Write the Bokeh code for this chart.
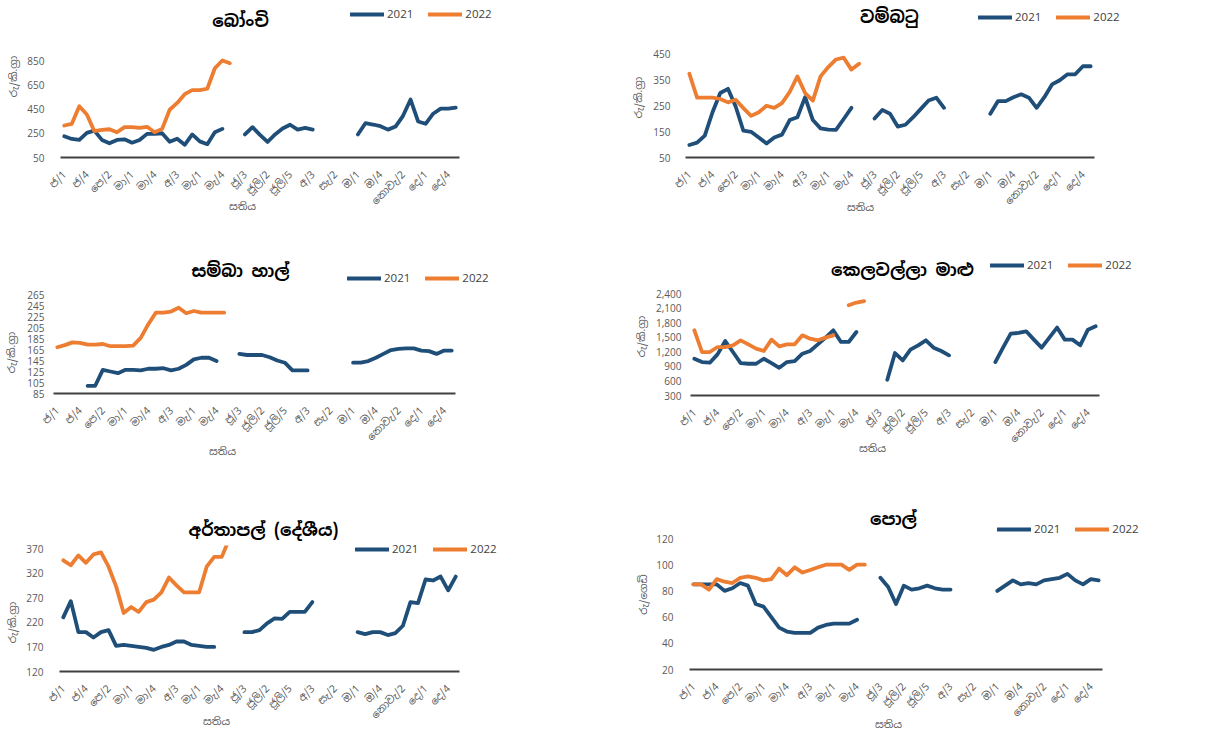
import numpy as np
from bokeh.plotting import figure
from bokeh.models import (Range1d, FixedTicker, Label, Legend, LegendItem,
                          NumeralTickFormatter, BoxAnnotation)
from bokeh.layouts import column, row
from bokeh.embed import file_html
from bokeh.resources import INLINE

NA = np.nan
N_WEEKS = 53
weeks = np.arange(N_WEEKS)

tick_positions = list(range(0, 52, 3))
tick_labels = ["ජ/1", "ජ/4", "පෙ/2", "මා/1", "මා/4", "අ/3", "මැ/1", "මැ/4", "ජූ/3",
               "ජූලි/2", "ජූලි/5", "අ/3", "සැ/2", "ඔ/1", "ඔ/4", "නොවැ/2", "දෙ/1", "දෙ/4"]

series_names = ["2021", "2022"]
x_title = "සතිය"

# ---- බෝංචි ----
bonchi_2021 = [225, 203, 195, 253, 272, 195, 167, 195, 200, 172, 195, 245, 245, 250, 180, 205, 155, 240, 183, 160, 258, 286,
               NA, NA,
               240, 300, 236, 178, 240, 289, 320, 280, 294, 280,
               NA, NA, NA, NA, NA,
               240, 333, 322, 308, 280, 305, 394, 528, 347, 328, 411, 453, 453, 461]
bonchi_2022 = [314, 328, 472, 405, 267, 278, 283, 258, 300, 300, 294, 303, 258, 286, 444, 500, 572, 606, 606, 617, 786, 850, 828]

# ---- වම්බටු ----
wambatu_2021 = [98, 107, 134, 224, 298, 314, 246, 153, 149, 127, 104, 127, 138, 194, 205, 282, 194, 162, 157, 156, 198, 241,
                NA, NA,
                200, 233, 218, 169, 176, 205, 237, 269, 280, 241,
                NA, NA, NA, NA, NA,
                218, 267, 267, 282, 293, 280, 241, 282, 331, 347, 370, 370, 401, 401]
wambatu_2022 = [372, 280, 280, 280, 275, 262, 272, 240, 210, 224, 249, 241, 259, 302, 362, 298, 269, 362, 398, 427, 434, 388, 411]

# ---- සම්බා හාල් ----
samba_2021 = [NA, NA, NA, NA,
              99, 99, 128, 125, 122, 128, 128, 127, 130, 130, 131, 127, 130, 137, 147, 150, 150, 144,
              NA, NA,
              157, 155, 155, 155, 151, 145, 141, 127, 127, 127,
              NA, NA, NA, NA, NA,
              141, 141, 144, 150, 157, 164, 166, 167, 167, 163, 162, 157, 163, 163]
samba_2022 = [169, 173, 178, 177, 174, 174, 175, 171, 171, 171, 172, 186, 211, 232, 232, 234, 241, 231, 235, 232, 232, 232, 232]

# ---- කෙලවල්ලා මාළු ----
kelawalla_2021 = [1057, 988, 975, 1147, 1422, 1195, 968, 954, 954, 1057, 968, 871, 988, 1009, 1161, 1216, 1353, 1491, 1643, 1402, 1402, 1608,
                  NA, NA, NA,
                  624, 1174, 1023, 1243, 1333, 1436, 1285, 1216, 1126,
                  NA, NA, NA, NA, NA,
                  988, 1285, 1574, 1588, 1622, 1450, 1285, 1491, 1698, 1450, 1450, 1333, 1656, 1725]
kelawalla_2022 = [1643, 1195, 1195, 1298, 1298, 1333, 1436, 1353, 1264, 1216, 1450, 1312, 1353, 1353, 1539, 1470, 1436, 1491, 1539,
                  NA, 2159, 2214, 2242]

# ---- අර්තාපල් (දේශීය) ----
potato_2021 = [230, 263, 200, 200, 189, 200, 204, 172, 174, 172, 170, 168, 164, 170, 174, 181, 181, 174, 172, 170, 170,
               NA, NA, NA,
               200, 200, 204, 218, 228, 227, 241, 241, 241, 261,
               NA, NA, NA, NA, NA,
               200, 196, 200, 200, 194, 198, 213, 261, 259, 307, 305, 313, 285, 313]
potato_2022 = [346, 336, 356, 341, 358, 362, 333, 293, 239, 251, 241, 261, 266, 281, 311, 295, 281, 281, 281, 333, 353, 353, 390]

# ---- පොල් ----
coconut_2021 = [85, 85, 85, 85, 80, 82, 86, 84, 70, 68, 60, 52, 49, 48, 48, 48, 52, 54, 55, 55, 55, 58,
                NA, NA,
                90, 83, 70, 84, 81, 82, 84, 82, 81, 81,
                NA, NA, NA, NA, NA,
                80, 84, 88, 85, 86, 85, 88, 89, 90, 93, 88, 85, 89, 88]
coconut_2022 = [85, 85, 81, 89, 87, 86, 90, 91, 90, 88, 89, 97, 92, 98, 94, 96, 98, 100, 100, 100, 96, 100, 100]


def pad(vals):
    a = np.full(N_WEEKS, np.nan)
    a[:len(vals)] = np.array(vals, dtype=float)
    return a


BLUE = "#1F4E79"
ORANGE = "#ED7D31"
SIN = "'Noto Sans Sinhala', 'Noto Serif Sinhala', 'Iskoola Pota', sans-serif"
NUM = "Open Sans"
GREY = "#595959"


def make_panel(title, ylab, d21, d22, y0, y1, ystep, W, H, frame, title_xy, ylab_xy, xlab_xy,
               leg_xy, ystd, yfmt=None):
    # frame = plot area (left, top, right, bottom) in figure pixels
    fl, ft, fr, fb = frame
    x_lo, x_hi = -0.5, N_WEEKS - 0.5
    ux = (x_hi - x_lo) / (fr - fl)          # data units per pixel
    uy = (y1 - y0) / (fb - ft)
    xr = Range1d(x_lo - fl * ux, x_lo + (W - fl) * ux)
    yr = Range1d(y1 - (H - ft) * uy, y1 + ft * uy)

    p = figure(width=W, height=H, output_backend="svg", toolbar_location=None,
               x_range=xr, y_range=yr, min_border=0,
               min_border_left=0, min_border_right=0, min_border_top=0, min_border_bottom=0)
    p.grid.visible = False
    p.outline_line_color = None
    p.background_fill_color = "white"
    p.border_fill_color = "white"

    r21 = p.line(weeks, pad(d21), line_color=BLUE, line_width=3.8, line_join="round", line_cap="round")
    r22 = p.line(weeks, pad(d22), line_color=ORANGE, line_width=3.8, line_join="round", line_cap="round")

    # hide anything drawn above the top of the value axis (as the plot area does)
    p.add_layout(BoxAnnotation(bottom=y1 + 3 * uy, left=x_lo - 2 * ux, right=x_hi + 2 * ux,
                               fill_color="white", fill_alpha=1, line_color=None))

    xa = p.xaxis[0]
    xa.fixed_location = y0
    xa.bounds = (x_lo, x_hi)
    xa.ticker = FixedTicker(ticks=tick_positions)
    xa.major_label_overrides = dict(zip(tick_positions, tick_labels))
    xa.major_label_orientation = np.pi / 4
    xa.major_tick_line_color = None
    xa.minor_tick_line_color = None
    xa.axis_line_color = "#404040"
    xa.axis_line_width = 2
    xa.major_label_text_font = SIN
    xa.major_label_text_font_size = "10.5px"
    xa.major_label_text_color = GREY
    xa.major_label_standoff = 9

    ya = p.yaxis[0]
    ya.fixed_location = x_lo
    ya.ticker = FixedTicker(ticks=list(range(y0, y1 + 1, ystep)))
    ya.major_tick_line_color = None
    ya.minor_tick_line_color = None
    ya.axis_line_color = None
    ya.major_label_text_font = NUM
    ya.major_label_text_font_size = "10px"
    ya.major_label_text_color = GREY
    ya.major_label_standoff = ystd
    if yfmt:
        ya.formatter = NumeralTickFormatter(format=yfmt)

    def dx(px):
        return xr.start + px * ux

    def dy(py):
        return yr.end - py * uy

    p.add_layout(Label(x=dx(title_xy[0]), y=dy(title_xy[1] - 3), text=title, text_align="center",
                       text_baseline="middle", text_font=SIN, text_font_size="17px",
                       text_font_style="bold", text_color="black"))
    p.add_layout(Label(x=dx(ylab_xy[0]), y=dy(ylab_xy[1]), text=ylab, text_align="center",
                       text_baseline="middle", angle=np.pi / 2, text_font=SIN,
                       text_font_size="10.5px", text_color=GREY))
    p.add_layout(Label(x=dx(xlab_xy[0]), y=dy(xlab_xy[1]), text=x_title, text_align="center",
                       text_baseline="middle", text_font=SIN, text_font_size="10.5px",
                       text_color=GREY))

    gx, gy = leg_xy
    leg = Legend(items=[LegendItem(label=series_names[0], renderers=[r21]),
                        LegendItem(label=series_names[1], renderers=[r22])],
                 location=(gx, H - (gy + 7)), orientation="horizontal",
                 padding=0, margin=0, spacing=15, glyph_width=34, glyph_height=14,
                 label_height=14, label_standoff=3, label_text_font=NUM,
                 label_text_font_size="11.5px", label_text_color="#404040",
                 border_line_color=None, background_fill_alpha=0)
    p.add_layout(leg)
    return p


WL, WR = 609, 609
H1, H2, H3 = 248, 245, 241
p1 = make_panel("බෝංචි", "රු/කි.ග්‍රා", bonchi_2021, bonchi_2022, 50, 850, 200, WL, H1,
                (60, 60, 459, 157), (240, 23), (12, 76), (242, 205), (350, 14), 10)
p2 = make_panel("වම්බටු", "රු/කි.ග්‍රා", wambatu_2021, wambatu_2022, 50, 450, 100, WR, H1,
                (76, 53, 485, 157), (280, 19), (28, 97), (251, 206), (369, 17), 9)
p3 = make_panel("සම්බා හාල්", "රු/කි.ග්‍රා", samba_2021, samba_2022, 85, 265, 20, WL, H2,
                (53, 46, 455, 145), (240, 25), (10, 104), (222, 202), (347, 30), 3)
p4 = make_panel("කෙලවල්ලා මාළු", "රු/කි.ග්‍රා", kelawalla_2021, kelawalla_2022, 300, 2400, 300, WR, H2,
                (81, 45, 490, 147), (293, 24), (31, 88), (263, 199), (381, 17), 3, "0,0")
p5 = make_panel("අර්තාපල් (දේශීය)", "රු/කි.ග්‍රා", potato_2021, potato_2022, 120, 370, 50, WL, H3,
                (59, 55, 459, 178), (263, 39), (11, 129), (216, 227), (355, 56), 10)
p6 = make_panel("පොල්", "රු/ගෙඩි", coconut_2021, coconut_2022, 20, 120, 20, WR, H3,
                (80, 45, 493, 176), (284, 28), (33, 101), (279, 230), (388, 36), 10)

layout = column(row(p1, p2), row(p3, p4), row(p5, p6))
open("out.html", "w").write(file_html(layout, INLINE))
